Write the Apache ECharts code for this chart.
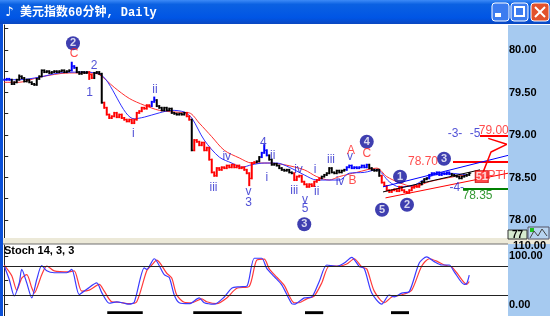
<!DOCTYPE html>
<html><head><meta charset="utf-8">
<script src="https://cdn.jsdelivr.net/npm/echarts@6/dist/echarts.min.js"></script>
<style>html,body{margin:0;padding:0;background:#fff;}#c{width:550px;height:316px;}</style>
</head><body><div id="c"></div>
<script>
const TITLE = '美元指数60分钟, Daily';
const STOCH_TITLE = 'Stoch 14, 3, 3';
// hourly closes (one per bar)
const closes = [
79.65,79.66,79.65,79.60,79.62,79.65,79.69,79.67,79.63,79.65,79.62,79.60,79.59,79.66,79.69,
79.76,79.74,79.75,79.73,79.74,79.75,79.74,79.75,79.76,79.74,79.75,79.76,79.81,79.79,79.74,
79.72,79.74,79.73,79.74,79.71,79.67,79.73,79.74,79.72,79.38,79.32,79.24,79.20,79.22,79.26,
79.21,79.24,79.20,79.18,79.16,79.18,79.14,79.18,79.26,79.28,79.32,79.31,79.35,79.34,79.39,
79.41,79.34,79.32,79.29,79.32,79.29,79.31,79.26,79.25,79.24,79.25,79.24,79.26,79.22,79.18,
78.82,78.94,78.92,78.88,78.91,78.82,78.85,78.71,78.56,78.52,78.61,78.59,78.62,78.61,78.64,
78.62,78.65,78.62,78.64,78.61,78.62,78.59,78.55,78.49,78.67,78.68,78.69,78.74,78.79,78.82,
78.76,78.71,78.65,78.66,78.64,78.61,78.59,78.58,78.59,78.56,78.55,78.47,78.51,78.52,78.45,
78.42,78.39,78.42,78.40,78.45,78.47,78.49,78.51,78.53,78.55,78.61,78.56,78.55,78.58,78.56,
78.58,78.59,78.62,78.64,78.61,78.62,78.61,78.62,78.64,78.62,78.65,78.61,78.59,78.58,78.59,
78.52,78.44,78.40,78.35,78.33,78.35,78.36,78.34,78.39,78.35,78.33,78.32,78.35,78.38,78.40,
78.39,78.42,78.45,78.48,78.49,78.53,78.55,78.54,78.56,78.53,78.55,78.54,78.56,78.54,78.53,
78.52,78.51,78.49,78.51,78.52,78.53,78.55
];
// bar extremes beyond the close-to-close range [bar, price]
const wicks = [[6,79.70],[27,79.85],[34,79.66],[60,79.44],[98,78.41],[104,78.88]];
// bar colour runs [first bar, colour key]
const colorRuns = [[0,'b'],[3,'k'],[27,'b'],[29,'k'],[34,'r'],[36,'k'],[40,'r'],[59,'b'],[61,'k'],[73,'r'],[75,'k'],[76,'r'],[101,'k'],[103,'b'],[106,'k'],[116,'r'],[127,'k'],[137,'b'],[146,'k'],[151,'r'],[167,'k'],[170,'b'],[179,'k']];
// moving averages read at sample bars [bar, value]
const maFast = [[0,79.65],[6,79.65],[14,79.68],[22,79.73],[30,79.74],[38,79.72],[52,79.19],[56,79.21],[62,79.26],[67,79.29],[72,79.27],[75,79.20],[80,78.94],[86,78.74],[91,78.67],[95,78.62],[99,78.65],[104,78.67],[109,78.67],[114,78.62],[120,78.53],[125,78.47],[134,78.47],[138,78.55],[144,78.56],[149,78.59],[154,78.45],[158,78.39],[164,78.41],[170,78.51],[178,78.55],[185,78.53]];
const maSlow = [[0,79.62],[6,79.62],[14,79.68],[26,79.73],[34,79.73],[38,79.71],[44,79.56],[50,79.43],[56,79.35],[62,79.29],[68,79.27],[74,79.26],[78,79.14],[83,78.98],[88,78.82],[94,78.73],[99,78.67],[106,78.67],[112,78.65],[120,78.59],[125,78.51],[130,78.47],[134,78.51],[141,78.56],[149,78.61],[153,78.51],[158,78.44],[164,78.39],[170,78.45],[180,78.51],[185,78.53]];
// stochastic %K and %D [bar, value]
const stochK = [[0,80],[2,52],[4,18],[6,45],[7,73],[9,45],[11,14],[13,52],[15,81],[17,70],[20,66],[25,66],[27,73],[30,21],[33,32],[37,45],[39,25],[42,3],[45,6],[48,3],[50,1],[52,5],[56,76],[57,73],[60,95],[64,62],[66,56],[68,20],[70,4],[74,2],[78,14],[80,4],[84,1],[88,16],[91,34],[94,37],[97,38],[100,96],[103,96],[105,75],[108,58],[111,41],[115,2],[116,1],[120,14],[123,16],[126,48],[129,82],[133,79],[136,86],[139,98],[142,79],[144,75],[147,24],[151,1],[154,20],[156,16],[159,24],[162,27],[166,86],[169,99],[172,89],[175,82],[178,82],[180,68],[184,42],[185,44],[186,61]];
const stochD = [[0,82],[3,60],[5,30],[7,55],[9,62],[11,35],[12,24],[15,62],[17,80],[20,70],[26,68],[28,70],[31,28],[34,30],[38,42],[40,28],[43,6],[46,5],[50,2],[53,6],[57,70],[59,82],[61,92],[65,65],[67,55],[69,20],[72,5],[75,4],[79,12],[81,6],[85,2],[89,14],[93,34],[98,38],[101,92],[104,94],[106,74],[109,57],[112,40],[116,4],[118,4],[121,12],[124,18],[127,45],[130,80],[134,80],[137,84],[140,95],[143,78],[145,74],[148,28],[152,4],[155,16],[157,18],[160,22],[163,30],[167,80],[170,95],[173,90],[176,82],[179,78],[181,66],[185,42],[186,48]];
// cycle bars under the oscillator [from bar, to bar]
const cycleBars = [[41.2,55.4],[75.6,95],[120.3,127.6],[154.7,161.9]];
// axis ticks
const priceLabels = [78.00,78.50,79.00,79.50,80.00];
const priceTicks = [77.75,78.00,78.25,78.50,78.75,79.00,79.25,79.50,79.75,80.00,80.25];
const stochLabels = [0,100];
const stochLevels = [80,20];
// annotations [bar, price, text, colour key]
const waveText = [
 [35.9,79.82,'2','b'],[34.1,79.50,'1','b'],[27.9,79.96,'C','r'],[60.3,79.53,'ii','b'],[51.6,79.02,'i','b'],
 [83.7,78.38,'iii','b'],[89,78.75,'iv','b'],[97.7,78.33,'v','b'],[97.7,78.20,'3','b'],
 [103.6,78.91,'4','b'],[107.4,78.76,'ii','b'],[105,78.50,'i','b'],
 [117.7,78.59,'iv','b'],[116,78.35,'iii','b'],[120.3,78.24,'v','b'],[120.3,78.13,'5','b'],
 [124.3,78.59,'i','b'],[125,78.33,'ii','b'],[130.7,78.71,'iii','b'],[134.3,78.45,'iv','b'],[138.3,78.74,'v','b'],
 [138.7,78.82,'A','r'],[139.3,78.46,'B','r'],[145,78.78,'C','r'],
 [180.3,79.01,'-3-','b'],[188.3,79.01,'-5','b'],[181,78.38,'-4-','b'],
 [167.5,78.69,'78.70','r'],[195.8,79.05,'79.00','r'],[189.3,78.28,'78.35','g'],[197,78.52,'PTI','r']
];
const waveCircles = [[27.5,80.08,'2'],[145,78.92,'4'],[120,77.95,'3'],[158.3,78.51,'1'],[151.1,78.12,'5'],[161.1,78.18,'2'],[175.9,78.72,'3']];
const ptiBox = [[191,78.51,'51']];
// target levels [from bar, to bar, price, colour key]
const targetLevels = [[179.5,201.5,78.68,'r'],[190.3,201.5,78.99,'r'],[183.5,201.5,78.37,'g']];
// channel lines [bar1, price1, bar2, price2, colour key]
const channelLines = [[151.5,78.39,201.5,78.76,'b'],[151.5,78.33,190.3,78.59,'k'],[152.5,78.26,201.5,78.55,'r']];
const arrowPath = [[191.5,78.56],[194.7,78.80],[201,78.89],[193.6,78.96]];

const NB = 202;
const pal = {k:'#000000', r:'#ff0000', b:'#0000ff', g:'#008000'};
const txtPal = {k:'#000', r:'#ff2020', b:'#2626cc', g:'#008000'};
function colorAt(i){ let k='k'; for (const r of colorRuns) if (i>=r[0]) k=r[1]; return pal[k]; }
const barData = closes.map((c,i)=>{
  const o = i ? closes[i-1] : c;
  let lo = Math.min(o,c), hi = Math.max(o,c);
  wicks.forEach(w=>{ if (w[0]===i){ lo=Math.min(lo,w[1]); hi=Math.max(hi,w[1]); } });
  return [i, lo, hi, c];
});
function renderBar(params, api){
  const i = api.value(0);
  const pl = api.coord([i, api.value(1)]);
  const ph = api.coord([i, api.value(2)]);
  const pc = api.coord([i, api.value(3)]);
  const col = colorAt(i);
  return {type:'group', children:[
    {type:'line', shape:{x1:pl[0], y1:pl[1]+1, x2:pl[0], y2:ph[1]-1}, style:{stroke:col, lineWidth:2}},
    {type:'line', shape:{x1:pc[0], y1:pc[1], x2:pc[0]+2, y2:pc[1]}, style:{stroke:col, lineWidth:1}}
  ]};
}
const FONT = 'Liberation Sans';
const textData = waveText.map(t=>({value:[t[0],t[1]], label:{show:true, position:'inside', formatter:t[2], color:txtPal[t[3]], fontSize:12, fontFamily:FONT}}));
const circleData = waveCircles.map(t=>({value:[t[0],t[1]], label:{show:true, position:'inside', formatter:t[2], color:'#fff', fontSize:11, fontWeight:'bold', fontFamily:FONT}}));
const boxData = ptiBox.map(t=>({value:[t[0],t[1]], label:{show:true, position:'inside', formatter:t[2], color:'#fff', fontSize:11, fontWeight:'bold', fontFamily:FONT}}));
const markLines = targetLevels.map(l=>[{coord:[l[0],l[2]], lineStyle:{color:pal[l[3]], width:2, type:'solid'}},{coord:[l[1],l[2]]}])
  .concat(channelLines.map(l=>[{coord:[l[0],l[1]], lineStyle:{color:pal[l[4]], width:1, type:'solid'}},{coord:[l[2],l[3]]}]));

const chart = echarts.init(document.getElementById('c'), null, {renderer:'canvas'});
const xBase = {type:'value', min:-0.5, max:NB-0.5, show:false};
chart.setOption({
  animation:false,
  backgroundColor:'#fff',
  grid:[{left:3, top:25, width:505, height:213},{left:3, top:245, width:505, height:71}],
  xAxis:[Object.assign({gridIndex:0}, xBase), Object.assign({gridIndex:1}, xBase)],
  yAxis:[
    {gridIndex:0, type:'value', position:'right', min:77.788, max:80.294, splitLine:{show:false},
     axisLine:{show:true, lineStyle:{color:'#222', width:1}},
     axisTick:{show:true, length:4, customValues:priceTicks, lineStyle:{color:'#222'}},
     axisLabel:{customValues:priceLabels, formatter:v=>v.toFixed(2), color:'#000', fontSize:11, fontWeight:'bold', fontFamily:FONT, margin:1}},
    {gridIndex:1, type:'value', position:'right', min:-23.4, max:123.4, splitLine:{show:false},
     axisLine:{show:true, lineStyle:{color:'#222', width:1}},
     axisTick:{show:true, length:4, customValues:[0,50,100], lineStyle:{color:'#222'}},
     axisLabel:{customValues:stochLabels, formatter:v=>v.toFixed(2), color:'#000', fontSize:11, fontWeight:'bold', fontFamily:FONT, margin:1}}
  ],
  series:[
    {type:'line', name:'maSlow', xAxisIndex:0, yAxisIndex:0, data:maSlow, showSymbol:false, smooth:0.3, lineStyle:{color:'#ff3030', width:1}, silent:true, z:3},
    {type:'line', name:'maFast', xAxisIndex:0, yAxisIndex:0, data:maFast, showSymbol:false, smooth:0.3, lineStyle:{color:'#3030ff', width:1}, silent:true, z:3},
    {type:'custom', name:'price', xAxisIndex:0, yAxisIndex:0, data:barData, renderItem:renderBar, silent:true, z:4},
    {type:'line', name:'arrow', xAxisIndex:0, yAxisIndex:0, data:arrowPath, showSymbol:false, lineStyle:{color:'#ff0000', width:1.5}, silent:true, z:5,
     markLine:{silent:true, symbol:'none', label:{show:false}, data:markLines}},
    {type:'scatter', name:'text', xAxisIndex:0, yAxisIndex:0, data:textData, symbolSize:1, itemStyle:{color:'rgba(0,0,0,0)'}, silent:true, z:6},
    {type:'scatter', name:'circles', xAxisIndex:0, yAxisIndex:0, data:circleData, symbol:'circle', symbolSize:14, itemStyle:{color:'#0f0f9c'}, silent:true, z:6},
    {type:'scatter', name:'box', xAxisIndex:0, yAxisIndex:0, data:boxData, symbol:'rect', symbolSize:[13,12], itemStyle:{color:'#ff1a1a', borderColor:'#c00000', borderWidth:1}, silent:true, z:6},
    {type:'line', name:'%K', xAxisIndex:1, yAxisIndex:1, data:stochK, showSymbol:false, smooth:0.25, lineStyle:{color:'#3a3aff', width:1.2}, silent:true, z:4,
     markLine:{silent:true, symbol:'none', label:{show:false}, lineStyle:{color:'#222', width:1, type:'solid'}, data:stochLevels.map(v=>({yAxis:v}))}},
    {type:'line', name:'%D', xAxisIndex:1, yAxisIndex:1, data:stochD, showSymbol:false, smooth:0.25, lineStyle:{color:'#ff3a3a', width:1.2}, silent:true, z:3,
     markArea:{silent:true, itemStyle:{color:'#000'}, data:cycleBars.map(b=>[{coord:[b[0],-13.5]},{coord:[b[1],-19.5]}])}}
  ],
  graphic:[
    {type:'rect', z:-10, shape:{x:508, y:25, width:42, height:213}, style:{fill:'#a6caf0'}},
    {type:'rect', z:-10, shape:{x:508, y:244, width:42, height:72}, style:{fill:'#a6caf0'}},
    {type:'rect', z:50, shape:{x:0, y:238, width:550, height:6}, style:{fill:'#ece9d8'}},
    {type:'rect', z:50, shape:{x:0, y:243.5, width:508, height:1}, style:{fill:'#707070'}},
    {type:'rect', z:50, shape:{x:0, y:24, width:3, height:292}, style:{fill:'#0b50d8'}},
    {type:'rect', z:51, shape:{x:508, y:230, width:19, height:9}, style:{fill:'#d6ebd0', stroke:'#333', lineWidth:1}},
    {type:'text', z:52, x:517.5, y:235, style:{text:'77', fill:'#000', fontSize:10, fontWeight:'bold', fontFamily:FONT, align:'center', verticalAlign:'middle'}},
    {type:'rect', z:51, shape:{x:528, y:227, width:21, height:12}, style:{fill:'#b8d4f0', stroke:'#556', lineWidth:1}},
    {type:'rect', z:52, shape:{x:530, y:228, width:4, height:4}, style:{fill:'#20c020'}},
    {type:'polyline', z:52, shape:{points:[[530,238],[534,231],[538,236],[542,229],[547,236]]}, style:{stroke:'#444', lineWidth:1, fill:null}},
    {type:'text', z:52, x:513, y:246, style:{text:'110.00', fill:'#000', fontSize:11, fontWeight:'bold', fontFamily:FONT, verticalAlign:'middle'}},
    {type:'text', z:52, x:4, y:251, style:{text:STOCH_TITLE, fill:'#000', fontSize:11, fontWeight:'bold', fontFamily:FONT, verticalAlign:'middle'}},
    {type:'rect', z:100, shape:{x:0, y:0, width:550, height:24},
     style:{fill:new echarts.graphic.LinearGradient(0,0,0,1,[{offset:0,color:'#3d8af7'},{offset:0.18,color:'#0b61e2'},{offset:0.75,color:'#0055e5'},{offset:1,color:'#0a47c0'}])}},
    {type:'text', z:101, x:5, y:13, style:{text:'♪', fill:'#fff', fontSize:13, fontFamily:'DejaVu Sans', verticalAlign:'middle'}},
    {type:'text', z:101, x:20, y:13, style:{text:TITLE, fill:'#fff', fontSize:12, fontWeight:'bold', fontFamily:'"Liberation Mono","Noto Sans CJK SC"', verticalAlign:'middle'}},
    {type:'rect', z:101, shape:{x:492, y:3, width:17, height:18, r:3}, style:{fill:'#3c7cf0', stroke:'#fff', lineWidth:1}},
    {type:'rect', z:102, shape:{x:495, y:13, width:6, height:4}, style:{fill:'#fff'}},
    {type:'rect', z:101, shape:{x:511, y:3, width:17, height:18, r:3}, style:{fill:'#3c7cf0', stroke:'#fff', lineWidth:1}},
    {type:'rect', z:102, shape:{x:515, y:7, width:9, height:9}, style:{fill:null, stroke:'#fff', lineWidth:2}},
    {type:'rect', z:101, shape:{x:531, y:3, width:18, height:18, r:3}, style:{fill:'#e2522c', stroke:'#fff', lineWidth:1}},
    {type:'line', z:102, shape:{x1:535, y1:7, x2:545, y2:17}, style:{stroke:'#fff', lineWidth:2}},
    {type:'line', z:102, shape:{x1:545, y1:7, x2:535, y2:17}, style:{stroke:'#fff', lineWidth:2}}
  ]
});
</script></body></html>
